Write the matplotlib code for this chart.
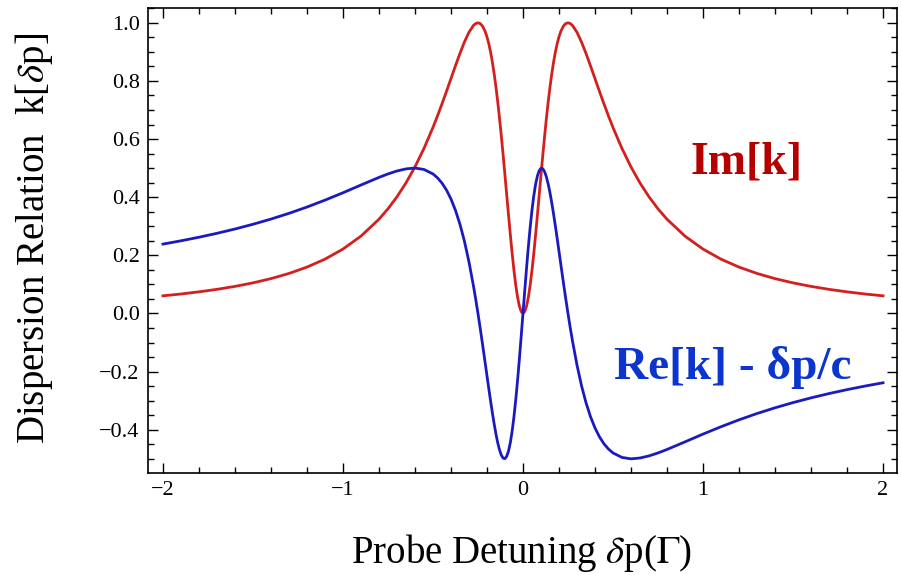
import matplotlib
matplotlib.use("Agg")
import matplotlib.pyplot as plt
from matplotlib.ticker import MultipleLocator, FuncFormatter

# probe detuning (units of Gamma) and the values
detuning = [-2.0, -1.9, -1.8, -1.7, -1.6, -1.5, -1.4, -1.3, -1.2, -1.1, -1.0, -0.9,
            -0.8, -0.75, -0.7, -0.65, -0.6, -0.55, -0.5, -0.475, -0.45, -0.425, -0.4,
            -0.375, -0.35, -0.325, -0.3, -0.275, -0.2625, -0.25, -0.2375, -0.225, -0.21,
            -0.2, -0.19, -0.18, -0.17, -0.16, -0.15, -0.14, -0.13, -0.12, -0.11, -0.1,
            -0.09, -0.08, -0.07, -0.06, -0.05, -0.04, -0.03, -0.02, -0.01,
            0.0,
            0.01, 0.02, 0.03, 0.04, 0.05, 0.06, 0.07, 0.08, 0.09, 0.1, 0.11, 0.12, 0.13,
            0.14, 0.15, 0.16, 0.17, 0.18, 0.19, 0.2, 0.21, 0.225, 0.2375, 0.25, 0.2625,
            0.275, 0.3, 0.325, 0.35, 0.375, 0.4, 0.425, 0.45, 0.475, 0.5, 0.55, 0.6,
            0.65, 0.7, 0.75, 0.8, 0.9, 1.0, 1.1, 1.2, 1.3, 1.4, 1.5, 1.6, 1.7, 1.8,
            1.9, 2.0]

im_k = [0.0606, 0.0669, 0.0743, 0.0829, 0.0931, 0.1052, 0.1198, 0.1376, 0.1595, 0.1868,
        0.2215, 0.266, 0.3242, 0.36, 0.4013, 0.449, 0.5042, 0.5676, 0.64, 0.6795, 0.7209,
        0.7639, 0.808, 0.8521, 0.8948, 0.9342, 0.9675, 0.991, 0.9976, 1.0, 0.9974, 0.989,
        0.9702, 0.9518, 0.9283, 0.8994, 0.8649, 0.8245, 0.7785, 0.727, 0.6702, 0.6087,
        0.5436, 0.4756, 0.4063, 0.337, 0.2696, 0.206, 0.1479, 0.0973, 0.056, 0.0253, 0.0064,
        0.0,
        0.0064, 0.0253, 0.056, 0.0973, 0.1479, 0.206, 0.2696, 0.337, 0.4063, 0.4756,
        0.5436, 0.6087, 0.6702, 0.727, 0.7785, 0.8245, 0.8649, 0.8994, 0.9283, 0.9518,
        0.9702, 0.989, 0.9974, 1.0, 0.9976, 0.991, 0.9675, 0.9342, 0.8948, 0.8521, 0.808,
        0.7639, 0.7209, 0.6795, 0.64, 0.5676, 0.5042, 0.449, 0.4013, 0.36, 0.3242, 0.266,
        0.2215, 0.1868, 0.1595, 0.1376, 0.1198, 0.1052, 0.0931, 0.0829, 0.0743, 0.0669,
        0.0606]

re_k = [0.2386, 0.2499, 0.2622, 0.2757, 0.2905, 0.3068, 0.3247, 0.3444, 0.3661, 0.3898,
        0.4152, 0.4419, 0.4681, 0.48, 0.4902, 0.4974, 0.5003, 0.4954, 0.48, 0.4667, 0.4486,
        0.4247, 0.3939, 0.355, 0.3068, 0.2479, 0.1774, 0.0946, 0.0487, 0.0, -0.0512,
        -0.1044, -0.17, -0.2142, -0.258, -0.3008, -0.3419, -0.3803, -0.4152, -0.4456,
        -0.4702, -0.488, -0.4981, -0.4994, -0.4912, -0.4727, -0.4438, -0.4044, -0.355,
        -0.2964, -0.2299, -0.157, -0.0796,
        0.0,
        0.0796, 0.157, 0.2299, 0.2964, 0.355, 0.4044, 0.4438, 0.4727, 0.4912, 0.4994,
        0.4981, 0.488, 0.4702, 0.4456, 0.4152, 0.3803, 0.3419, 0.3008, 0.258, 0.2142,
        0.17, 0.1044, 0.0512, 0.0, -0.0487, -0.0946, -0.1774, -0.2479, -0.3068, -0.355,
        -0.3939, -0.4247, -0.4486, -0.4667, -0.48, -0.4954, -0.5003, -0.4974, -0.4902,
        -0.48, -0.4681, -0.4419, -0.4152, -0.3898, -0.3661, -0.3444, -0.3247, -0.3068,
        -0.2905, -0.2757, -0.2622, -0.2499, -0.2386]

plt.rcParams['font.family'] = ['Liberation Serif', 'DejaVu Serif']
plt.rcParams['mathtext.fontset'] = 'stix'

fig = plt.figure(figsize=(9.03, 5.75), dpi=100)
ax = fig.add_axes([0.1639, 0.1779, 0.8295, 0.8082])

ax.plot(detuning, im_k, color='#d41f1f', lw=2.0, solid_joinstyle='round')
ax.plot(detuning, re_k, color='#1a1ac0', lw=2.0, solid_joinstyle='round')

ax.set_xlim(-2.083, 2.078)
ax.set_ylim(-0.548, 1.051)

ax.xaxis.set_major_locator(MultipleLocator(1))
ax.xaxis.set_minor_locator(MultipleLocator(0.2))
ax.yaxis.set_major_locator(MultipleLocator(0.2))
ax.yaxis.set_minor_locator(MultipleLocator(0.05))
ax.tick_params(which='both', direction='in', top=True, right=True, width=1.0)
ax.tick_params(which='major', length=7, labelsize=16, pad=6)
ax.tick_params(which='minor', length=4)
ax.yaxis.set_major_formatter(FuncFormatter(lambda v, p: ('%.1f' % v).replace('-', '\u2212')))
ax.xaxis.set_major_formatter(FuncFormatter(lambda v, p: ('%d' % round(v)).replace('-', '\u2212')))
for s in ax.spines.values():
    s.set_linewidth(1.2)

ax.set_xlabel(r'Probe Detuning $\delta$p($\Gamma$)', fontsize=28)
ax.set_ylabel(r'Dispersion Relation  k[$\delta$p]', fontsize=28)
ax.xaxis.set_label_coords(0.4993, -0.128)
ax.yaxis.set_label_coords(-0.124, 0.505)

ax.text(1.244, 0.521, 'Im[k]', color='#b50000', fontsize=33, fontweight='bold',
        ha='center', va='center')
ax.text(1.167, -0.187, 'Re[k] - \u03b4p/c', color='#0b35cc', fontsize=34,
        fontweight='bold', ha='center', va='center')

fig.savefig('out.png', dpi=100)
